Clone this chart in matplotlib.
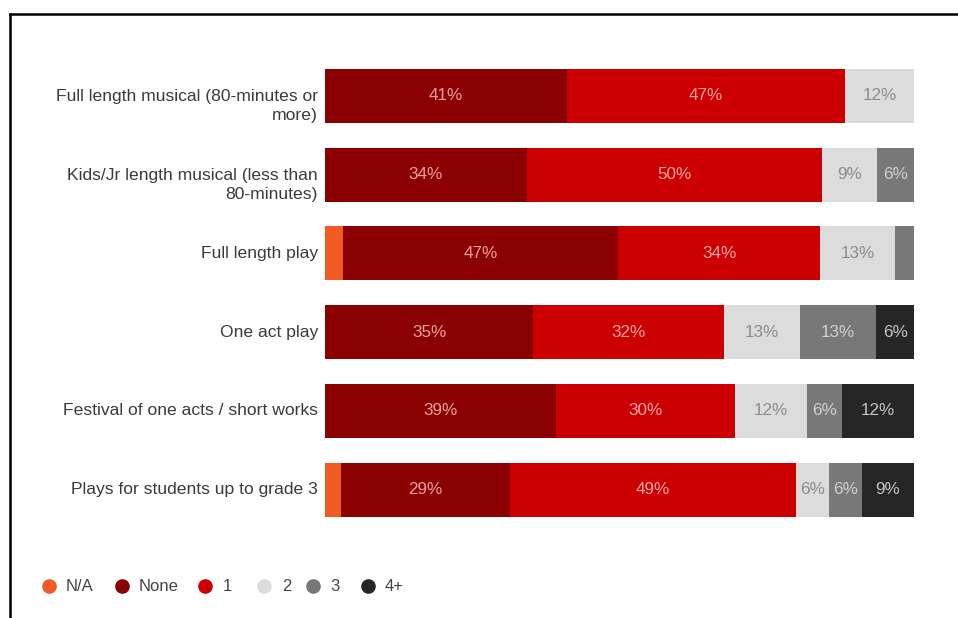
import numpy as np
import matplotlib.pyplot as plt
from matplotlib.lines import Line2D

plt.rcParams['font.family'] = ['Liberation Sans', 'DejaVu Sans']

# categories (top to bottom) and answer shares in percent
categories = [
    "Full length musical (80-minutes or\nmore)",
    "Kids/Jr length musical (less than\n80-minutes)",
    "Full length play",
    "One act play",
    "Festival of one acts / short works",
    "Plays for students up to grade 3",
]
series_names = ["N/A", "None", "1", "2", "3", "4+"]
na_vals   = [0.0, 0.0, 3.0, 0.0, 0.0, 2.8]
none_vals = [41.1, 34.3, 46.8, 35.4, 39.2, 28.6]
one_vals  = [47.2, 50.1, 34.2, 32.4, 30.4, 48.6]
two_vals  = [11.7, 9.3, 12.8, 12.9, 12.2, 5.6]
three_vals = [0.0, 6.3, 3.2, 12.9, 5.9, 5.6]
four_vals = [0.0, 0.0, 0.0, 6.4, 12.3, 8.8]

colors = ["#f35b25", "#8b0000", "#cc0000", "#dcdcdc", "#787878", "#262626"]
text_colors = ["#fbd0c0", "#eba0a0", "#f5a5a5", "#8c8c8c", "#d0d0d0", "#c4c4c4"]

series = [na_vals, none_vals, one_vals, two_vals, three_vals, four_vals]

fig = plt.figure(figsize=(9.58, 6.18), dpi=100)
ax = fig.add_axes([0.3392, 0.1442, 0.6149, 0.7642])

y = np.arange(len(categories))
left = np.zeros(len(categories))
for vals, col, tcol in zip(series, colors, text_colors):
    vals = np.array(vals)
    bars = ax.barh(y, vals, left=left, height=0.686, color=col, edgecolor="none")
    for b, v in zip(bars, vals):
        if v >= 5:
            ax.text(b.get_x() + b.get_width() / 2, b.get_y() + b.get_height() / 2,
                    "%.0f%%" % v, ha="center", va="center", color=tcol, fontsize=12.3)
    left += vals

ax.set_xlim(0, 100)
ax.set_ylim(len(categories) - 0.5, -0.5)
ax.set_xticks([])
ax.set_yticks([])
for s in ax.spines.values():
    s.set_visible(False)

# category labels, first line level with the bar
for i, lab in enumerate(categories):
    nlines = lab.count("\n") + 1
    ax.annotate(lab, xy=(0, i), xycoords=("axes fraction", "data"),
                xytext=(-5, -7.2 * (nlines - 1)), textcoords="offset points",
                ha="right", va="center", color="#3a3a3a", fontsize=12.6,
                multialignment="right", linespacing=1.35)

# legend along the bottom
legend_x = [0.051, 0.127, 0.214, 0.276, 0.327, 0.384]
for lx, name, col in zip(legend_x, series_names, colors):
    fig.add_artist(Line2D([lx], [0.052], marker="o", markersize=9.5, color=col,
                          linestyle="none", transform=fig.transFigure))
    fig.text(lx + 0.018, 0.051, name, ha="left", va="center", color="#444444", fontsize=12)

# outer frame lines (top and left)
fig.add_artist(Line2D([0.0105, 1.0], [0.977, 0.977], color="black", linewidth=1.8,
                      transform=fig.transFigure))
fig.add_artist(Line2D([0.0105, 0.0105], [0.0, 0.977], color="black", linewidth=1.8,
                      transform=fig.transFigure))

fig.savefig("out.png", dpi=100, facecolor="white")
